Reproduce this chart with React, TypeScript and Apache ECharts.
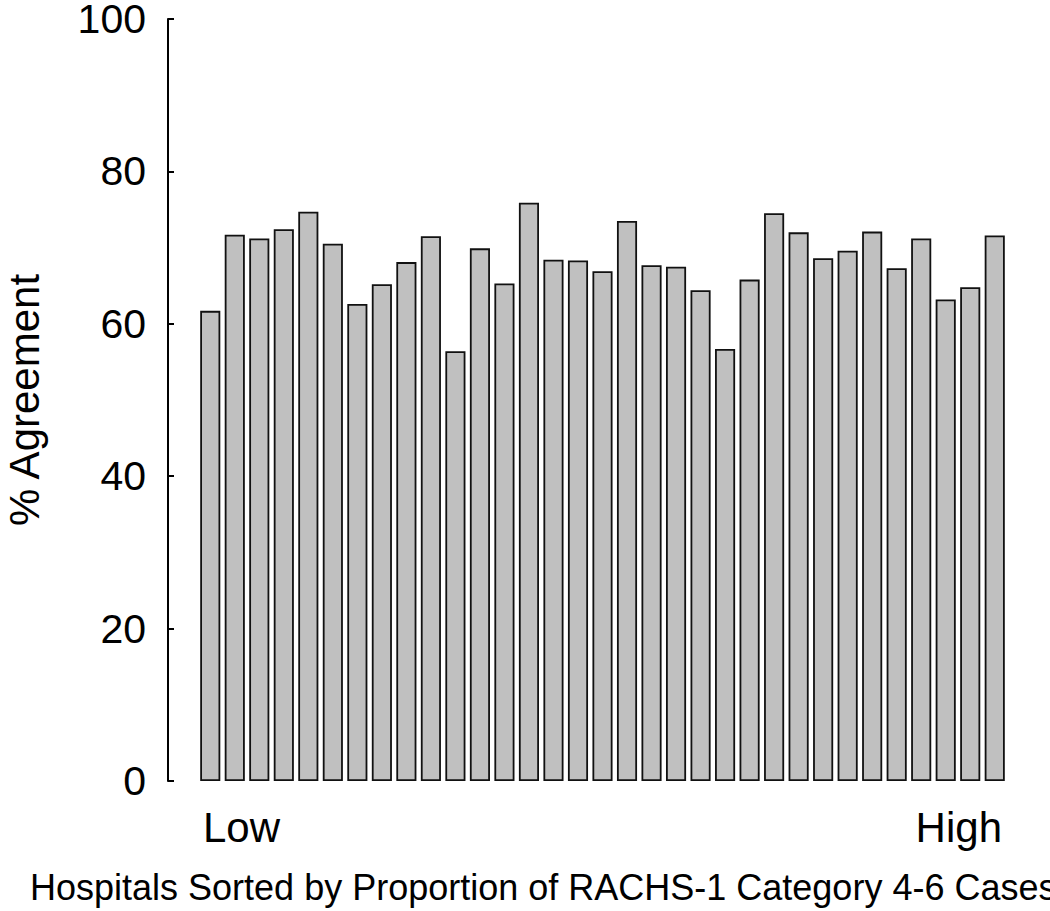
import React, { useEffect, useRef } from "react";
import * as echarts from "echarts";

const hospitals: string[] = Array.from({ length: 33 }, (_, i) => `H${i + 1}`);
const agreement: number[] = [
  61.7, 71.7, 71.2, 72.4, 74.7, 70.5, 62.6, 65.2, 68.1, 71.5, 56.4,
  69.9, 65.3, 75.9, 68.4, 68.3, 66.9, 73.5, 67.7, 67.5, 64.4, 56.7,
  65.8, 74.5, 72.0, 68.6, 69.6, 72.1, 67.3, 71.2, 63.2, 64.8, 71.6,
];
const endLabels: string[] = ["Low", "High"];
const yAxisName = "% Agreement";
const xAxisTitle = "Hospitals Sorted by Proportion of RACHS-1 Category 4-6 Cases";

const FONT = "'Liberation Sans', Arial, Helvetica, sans-serif";

export default function App() {
  const ref = useRef<HTMLDivElement>(null);
  useEffect(() => {
    if (!ref.current) return;
    const chart = echarts.init(ref.current, undefined, { renderer: "svg" });
    chart.setOption({
      animation: false,
      backgroundColor: "#ffffff",
      grid: {
        left: 198,
        right: 43,
        top: 19,
        bottom: 130,
        containLabel: false,
        outerBoundsMode: "none",
      },
      xAxis: {
        type: "category",
        data: hospitals,
        axisLine: { show: false },
        axisTick: { show: false },
        axisLabel: { show: false },
        splitLine: { show: false },
      },
      yAxis: {
        type: "value",
        min: 0,
        max: 100,
        interval: 20,
        offset: 30,
        name: yAxisName,
        nameLocation: "middle",
        nameGap: 123,
        nameTextStyle: { fontSize: 42, color: "#000", fontFamily: FONT },
        axisLine: { show: true, lineStyle: { color: "#000", width: 2 } },
        axisTick: { show: true, inside: true, length: 6, lineStyle: { color: "#000", width: 2 } },
        axisLabel: { fontSize: 41, color: "#000", fontFamily: FONT, margin: 22 },
        splitLine: { show: false },
      },
      series: [
        {
          type: "bar",
          data: agreement,
          barCategoryGap: "18%",
          itemStyle: { color: "#c0c0c0", borderColor: "#111", borderWidth: 1.8 },
        },
      ],
      graphic: [
        {
          type: "text",
          left: 203,
          top: 806,
          style: { text: endLabels[0], fontSize: 42, fill: "#000", fontFamily: FONT },
        },
        {
          type: "text",
          right: 48,
          top: 806,
          style: { text: endLabels[1], fontSize: 42, fill: "#000", fontFamily: FONT },
        },
        {
          type: "text",
          x: 30,
          y: 869,
          style: { text: xAxisTitle, fontSize: 36, fill: "#000", fontFamily: FONT },
        },
      ],
    });
    return () => chart.dispose();
  }, []);
  return (
    <div
      ref={ref}
      style={{ position: "absolute", left: 0, top: 0, width: 1050, height: 911 }}
    />
  );
}
